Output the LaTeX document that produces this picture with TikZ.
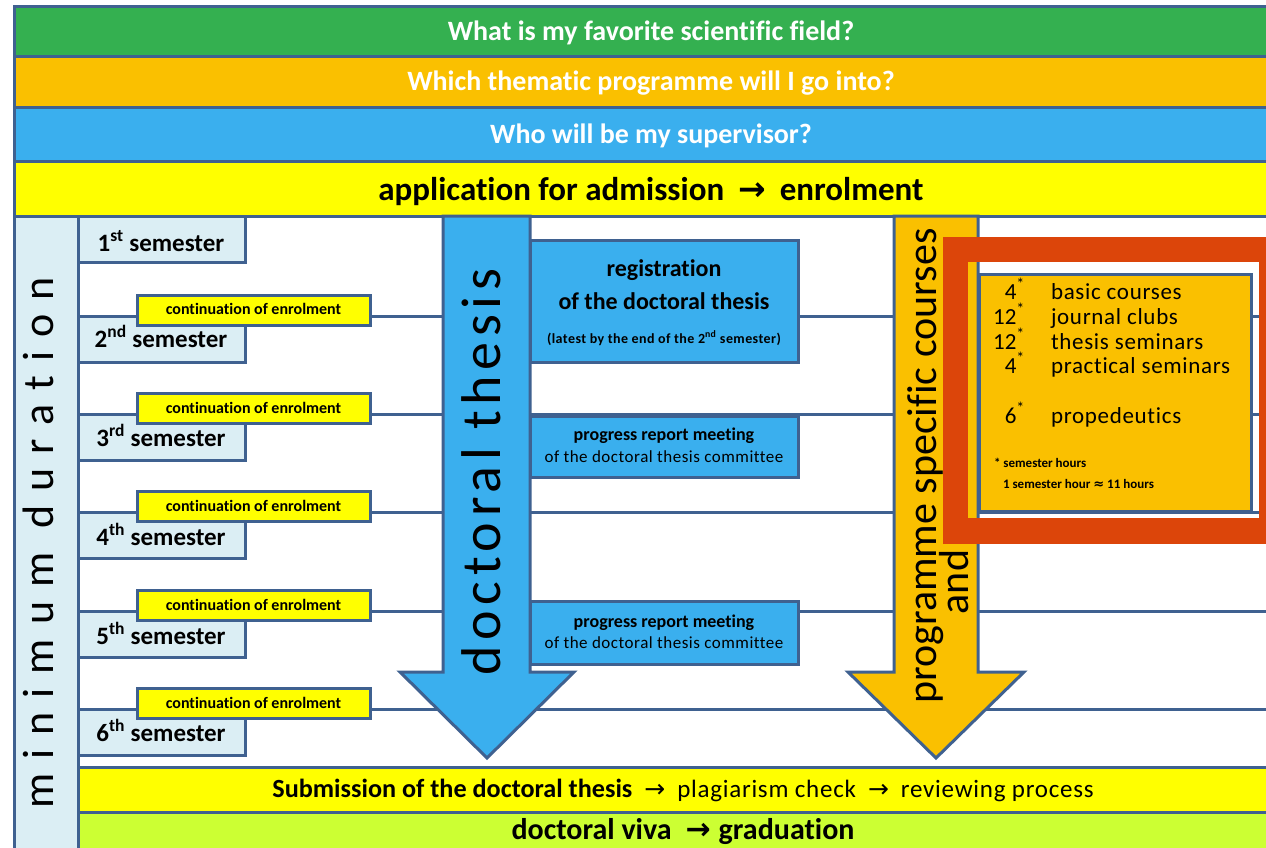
\documentclass[tikz,border=0pt]{standalone}
\usepackage{fontspec}
\defaultfontfeatures{Ligatures=CommonOff}
\setmainfont{Carlito}
\newfontfamily\symfont{DejaVu Sans}
\newfontfamily\widefont[LetterSpace=32]{Carlito}
\newfontfamily\thesisfont[LetterSpace=10]{Carlito}
\newfontfamily\trackfont[LetterSpace=3]{Carlito}
\definecolor{cgreen}{RGB}{52,176,80}
\definecolor{corange}{RGB}{250,192,0}
\definecolor{cblue}{RGB}{58,175,238}
\definecolor{cyellow}{RGB}{255,255,0}
\definecolor{clime}{RGB}{204,255,51}
\definecolor{clight}{RGB}{219,238,244}
\definecolor{cborder}{RGB}{63,97,144}
\definecolor{cred}{RGB}{220,69,10}
\begin{document}
\begin{tikzpicture}[x=1pt,y=-1pt,
  bd/.style={draw=cborder,line width=3pt},
  conn/.style={draw=cborder,line width=3pt},
  txt/.style={inner sep=0pt,outer sep=0pt,anchor=base},
  hdr/.style={txt,text=white,font=\fontsize{28}{32}\selectfont\bfseries},
  semtxt/.style={txt,font=\fontsize{25}{28}\selectfont\bfseries},
  conttxt/.style={txt,font=\fontsize{16}{18}\selectfont\bfseries},
  rottxt/.style={txt,rotate=90},
  num/.style={inner sep=0pt,outer sep=0pt,anchor=base east,font=\fontsize{23}{25}\selectfont},
  lbl/.style={inner sep=0pt,outer sep=0pt,anchor=base west,font=\trackfont\fontsize{23}{25}\selectfont},
  note/.style={inner sep=0pt,outer sep=0pt,anchor=base west,font=\fontsize{13}{15}\selectfont\bfseries},
]
\useasboundingbox (0,0) rectangle (1266,848);
\clip (0,0) rectangle (1266,848);
\fill[white] (0,0) rectangle (1266,848);

% row lines
\foreach \i/\y in {2/316,3/414,4/512,5/611,6/709}{
  \coordinate (l\i) at (78,\y);
  \coordinate (r\i) at (1290,\y);
}
\foreach \i in {2,...,6}{\draw[conn] (l\i) -- (r\i);}

% header bars
\path[bd,fill=cgreen] (14,7) rectangle (1300,57);
\path[bd,fill=corange] (14,57) rectangle (1300,108);
\path[bd,fill=cblue] (14,108) rectangle (1300,161);
\path[bd,fill=cyellow] (14,161) rectangle (1300,216);

% minimum column
\path[bd,fill=clight] (14,216) rectangle (78,870);

% semester boxes
\foreach \t in {216,316,414,512,611,709}{
  \path[bd,fill=clight] (78,\t) rectangle (245,\t+46);
}
% continuation boxes
\foreach \y in {316,414,512,611,709}{
  \path[bd,fill=cyellow] (137,\y-21) rectangle (370,\y+9);
}

% blue boxes
\path[bd,fill=cblue] (530,240) rectangle (798,362);
\path[bd,fill=cblue] (530,416) rectangle (798,477);
\path[bd,fill=cblue] (530,601) rectangle (798,664);

% arrows
\path[bd,fill=cblue] (443,216) -- (443,672) -- (400,672) -- (487,758) -- (574,672) -- (530,672) -- (530,216) -- cycle;
\path[bd,fill=corange] (894,216) -- (894,672) -- (848,672) -- (936,758) -- (1024,672) -- (978,672) -- (978,216) -- cycle;

% bottom bars
\path[bd,fill=cyellow] (78,767) rectangle (1300,812);
\path[bd,fill=clime] (78,812) rectangle (1300,870);

% rotated labels
\node[rottxt,font=\widefont\fontsize{44}{48}\selectfont] (mindur) at (53,543) {minimum duration};
\node[rottxt,font=\thesisfont\fontsize{56}{60}\selectfont] (thesis) at (500,472) {doctoral thesis};
\node[rottxt,font=\fontsize{42}{46}\selectfont] (prog) at (936,466) {programme specific courses};
\node[rottxt,font=\fontsize{42}{46}\selectfont] (andw) at (968,582) {and};

% courses box and red frame
\path[bd,fill=corange] (979,274) rectangle (1251,511);
\draw[cred,line width=25.5pt] (955.5,249.5) rectangle (1272,531);

% header texts
\node[hdr] (q1) at (651,41) {What is my favorite scientific field?};
\node[hdr] (q2) at (651,91) {Which thematic programme will I go into?};
\node[hdr] (q3) at (651,143) {Who will be my supervisor?};
\node[txt,font=\fontsize{33}{36}\selectfont\bfseries] (apply) at (651,200) {application for admission\hspace{14pt}{\symfont\bfseries →}\hspace{14pt}enrolment};

% semesters
\node[semtxt] (s1) at (161,251) {1\textsuperscript{st} semester};
\node[semtxt] (s2) at (161,347) {2\textsuperscript{nd} semester};
\node[semtxt] (s3) at (161,446) {3\textsuperscript{rd} semester};
\node[semtxt] (s4) at (161,545) {4\textsuperscript{th} semester};
\node[semtxt] (s5) at (161,644) {5\textsuperscript{th} semester};
\node[semtxt] (s6) at (161,741) {6\textsuperscript{th} semester};
\node[conttxt] (c2) at (253.5,314) {continuation of enrolment};
\node[conttxt] (c3) at (253.5,413) {continuation of enrolment};
\node[conttxt] (c4) at (253.5,511) {continuation of enrolment};
\node[conttxt] (c5) at (253.5,610) {continuation of enrolment};
\node[conttxt] (c6) at (253.5,708) {continuation of enrolment};

% blue box texts
\node[txt,font=\fontsize{24}{26}\selectfont\bfseries] (reg1) at (664,276) {registration};
\node[txt,font=\fontsize{24}{26}\selectfont\bfseries] (reg2) at (664,309) {of the doctoral thesis};
\node[txt,font=\trackfont\fontsize{14}{16}\selectfont\bfseries] (reg3) at (664,343) {(latest by the end of the 2\textsuperscript{nd} semester)};
\node[txt,font=\fontsize{18}{20}\selectfont\bfseries] (pa1) at (664,440) {progress report meeting};
\node[txt,font=\trackfont\fontsize{17}{19}\selectfont] (pa2) at (664,462) {of the doctoral thesis committee};
\node[txt,font=\fontsize{18}{20}\selectfont\bfseries] (pb1) at (664,627) {progress report meeting};
\node[txt,font=\trackfont\fontsize{17}{19}\selectfont] (pb2) at (664,648) {of the doctoral thesis committee};

% courses
\node[num] (n1) at (1025,299) {4\textsuperscript{*}};
\node[lbl] (t1) at (1051,299) {basic courses};
\node[num] (n2) at (1025,324) {12\textsuperscript{*}};
\node[lbl] (t2) at (1051,324) {journal clubs};
\node[num] (n3) at (1025,349) {12\textsuperscript{*}};
\node[lbl] (t3) at (1051,349) {thesis seminars};
\node[num] (n4) at (1025,373) {4\textsuperscript{*}};
\node[lbl] (t4) at (1051,373) {practical seminars};
\node[num] (n5) at (1025,423) {6\textsuperscript{*}};
\node[lbl] (t5) at (1051,423) {propedeutics};
\node[note] (h1) at (994,467) {* semester hours};
\node[note] (h2) at (1003,488) {1 semester hour {\symfont ≈} 11 hours};

% bottom texts
\node[txt,font=\fontsize{25}{28}\selectfont] (sub) at (683,797) {{\fontsize{26.2}{28}\selectfont\bfseries Submission of the doctoral thesis}\hspace{12pt}{\symfont →}\hspace{12pt}{\trackfont plagiarism check}\hspace{12pt}{\symfont →}\hspace{12pt}{\trackfont reviewing process}};
\node[txt,font=\fontsize{30}{32}\selectfont\bfseries] (viva) at (683,839) {doctoral viva\hspace{14pt}{\symfont\bfseries →}\hspace{8pt}graduation};
\end{tikzpicture}
\end{document}
